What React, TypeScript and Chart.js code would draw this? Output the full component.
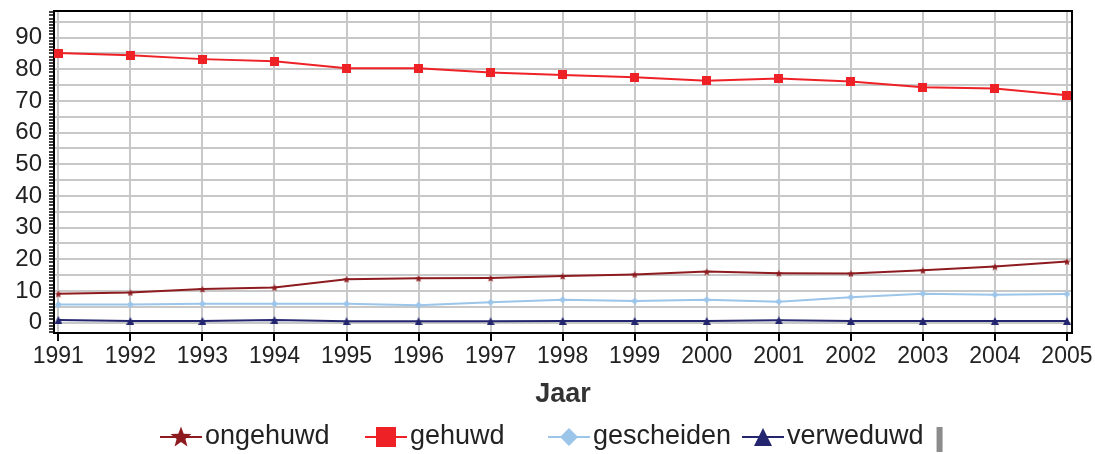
import React, { useEffect, useRef } from 'react';
import { Chart, registerables } from 'chart.js';

Chart.register(...registerables);

// ---- data ----
const years = [1991, 1992, 1993, 1994, 1995, 1996, 1997, 1998, 1999, 2000, 2001, 2002, 2003, 2004, 2005];
const ongehuwd = [9.1, 9.5, 10.6, 11.1, 13.7, 14.0, 14.1, 14.7, 15.2, 16.1, 15.6, 15.5, 16.5, 17.7, 19.3];
const gehuwd = [85.1, 84.4, 83.2, 82.5, 80.3, 80.3, 79.0, 78.2, 77.5, 76.4, 77.1, 76.1, 74.3, 73.9, 71.8];
const gescheiden = [5.7, 5.7, 5.9, 5.9, 5.9, 5.5, 6.4, 7.2, 6.8, 7.2, 6.6, 8.0, 9.1, 8.8, 9.0];
const verweduwd = [0.8, 0.5, 0.5, 0.8, 0.4, 0.4, 0.4, 0.5, 0.5, 0.5, 0.7, 0.5, 0.5, 0.5, 0.5];
const seriesNames = ['ongehuwd', 'gehuwd', 'gescheiden', 'verweduwd'];
const seriesValues = [ongehuwd, gehuwd, gescheiden, verweduwd];
const seriesColors = ['#8e1b1f', '#ee2127', '#9cc5ea', '#23266f'];
const seriesShapes = ['star', 'square', 'diamond', 'triangle'];
const yMin = -3.3;
const yMax = 98.4;
const xTitle = 'Jaar';

const FONT = "'Liberation Sans', Arial, sans-serif";
const legendX = [160, 365, 548, 742];

function makeMarker(shape: string, color: string, size: number): HTMLCanvasElement {
  const c = document.createElement('canvas');
  c.width = size;
  c.height = size;
  const ctx = c.getContext('2d')!;
  ctx.fillStyle = color;
  const h = size / 2;
  ctx.beginPath();
  if (shape === 'square') {
    ctx.rect(0, 0, size, size);
  } else if (shape === 'diamond') {
    ctx.moveTo(h, 0);
    ctx.lineTo(size, h);
    ctx.lineTo(h, size);
    ctx.lineTo(0, h);
    ctx.closePath();
  } else if (shape === 'triangle') {
    ctx.moveTo(h, 0);
    ctx.lineTo(size, size);
    ctx.lineTo(0, size);
    ctx.closePath();
  } else {
    const R = h;
    const r = h * 0.42;
    for (let k = 0; k < 10; k++) {
      const ang = -Math.PI / 2 + (k * Math.PI) / 5;
      const rad = k % 2 === 0 ? R : r;
      const px = h + rad * Math.cos(ang);
      const py = h + 0.5 + rad * Math.sin(ang);
      if (k === 0) ctx.moveTo(px, py);
      else ctx.lineTo(px, py);
    }
    ctx.closePath();
  }
  ctx.fill();
  return c;
}

export default function App() {
  const ref = useRef<HTMLCanvasElement | null>(null);

  useEffect(() => {
    if (!ref.current) return;
    const pointSizes = [8, 9, 7, 8];
    const legendSizes = [22, 20, 18, 18];
    const pointMarkers = seriesShapes.map((s, i) => makeMarker(s, seriesColors[i], pointSizes[i]));
    const legendMarkers = seriesShapes.map((s, i) => makeMarker(s, seriesColors[i], legendSizes[i]));

    const frame = {
      id: 'frame',
      beforeDatasetsDraw(chart: any) {
        const { ctx, chartArea } = chart;
        ctx.save();
        ctx.strokeStyle = '#000';
        ctx.lineWidth = 2;
        ctx.strokeRect(chartArea.left, chartArea.top, chartArea.right - chartArea.left, chartArea.bottom - chartArea.top);
        ctx.restore();
      },
    };

    const legend = {
      id: 'customLegend',
      afterDraw(chart: any) {
        const ctx = chart.ctx;
        ctx.save();
        ctx.font = `27px ${FONT}`;
        ctx.textBaseline = 'middle';
        const y = 437;
        let end = 0;
        chart.data.datasets.forEach((ds: any, i: number) => {
          const x = legendX[i];
          ctx.strokeStyle = seriesColors[i];
          ctx.lineWidth = 2;
          ctx.beginPath();
          ctx.moveTo(x, y);
          ctx.lineTo(x + 42, y);
          ctx.stroke();
          const img = legendMarkers[i];
          ctx.drawImage(img, Math.round(x + 21 - img.width / 2), Math.round(y - img.height / 2));
          ctx.fillStyle = '#222';
          ctx.fillText(ds.label, x + 45, y);
          end = x + 45 + ctx.measureText(ds.label).width;
        });
        ctx.fillStyle = '#8c8c8c';
        ctx.fillRect(end + 13, 427, 6, 25);
        ctx.restore();
      },
    };

    const chart = new Chart(ref.current, {
      type: 'line',
      data: {
        datasets: seriesValues.map((vals, i) => ({
          label: seriesNames[i],
          data: years.map((yr, j) => ({ x: yr, y: vals[j] })),
          borderColor: seriesColors[i],
          backgroundColor: seriesColors[i],
          borderWidth: 2,
          pointStyle: pointMarkers[i] as any,
          pointRadius: 4,
          pointHoverRadius: 4,
          tension: 0,
          fill: false,
        })),
      },
      options: {
        animation: false,
        responsive: false,
        devicePixelRatio: 1,
        events: [],
        layout: { padding: { left: 0, right: 23, top: 11, bottom: 43 } },
        plugins: {
          legend: { display: false },
          tooltip: { enabled: false },
          title: { display: false },
        },
        scales: {
          x: {
            type: 'linear',
            min: 1990.94,
            max: 2005.07,
            afterBuildTicks: (s: any) => {
              s.ticks = years.map((v) => ({ value: v }));
            },
            afterFit: (s: any) => {
              s.height = 78;
              s.paddingLeft = 0;
              s.paddingRight = 0;
            },
            ticks: {
              autoSkip: false,
              maxRotation: 0,
              padding: 2,
              color: '#222',
              font: { family: FONT, size: 23 },
              callback: (v: any) => String(v),
            },
            grid: { color: '#c8c8c8', lineWidth: 2, tickLength: 8, tickColor: '#000', tickWidth: 2 },
            border: { display: true, color: '#000', width: 2 },
            title: {
              display: true,
              text: xTitle,
              color: '#333',
              font: { family: FONT, size: 27, weight: 'bold' },
              padding: { top: 0, bottom: 0 },
            },
          },
          y: {
            type: 'linear',
            min: yMin,
            max: yMax,
            afterBuildTicks: (s: any) => {
              const t: any[] = [];
              for (let v = Math.ceil(yMin); v <= Math.floor(yMax); v++) t.push({ value: v });
              s.ticks = t;
            },
            afterFit: (s: any) => {
              s.width = 54;
              s.paddingTop = 0;
              s.paddingBottom = 0;
            },
            ticks: {
              autoSkip: false,
              padding: 7,
              color: '#222',
              font: { family: FONT, size: 24 },
              callback: (v: any) => (v >= 0 && v % 10 === 0 ? String(v) : ''),
            },
            grid: {
              color: (c: any) => (c.tick && c.tick.value % 5 === 0 ? '#c8c8c8' : 'rgba(0,0,0,0)'),
              lineWidth: 2,
              tickLength: 5,
              tickColor: '#000',
              tickWidth: 1.5,
            },
            border: { display: true, color: '#000', width: 2 },
          },
        },
      },
      plugins: [frame, legend],
    } as any);

    return () => chart.destroy();
  }, []);

  return (
    <div style={{ position: 'absolute', left: 0, top: 0, width: 1095, height: 454, background: '#fff' }}>
      <canvas ref={ref} width={1095} height={454} style={{ display: 'block' }} />
    </div>
  );
}
